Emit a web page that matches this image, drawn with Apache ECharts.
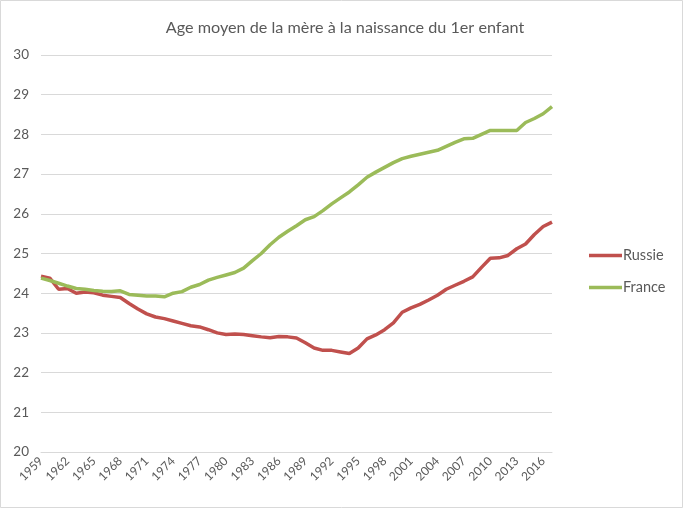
<!DOCTYPE html>
<html>
<head>
<meta charset="utf-8">
<script src="https://cdn.jsdelivr.net/npm/echarts@6/dist/echarts.min.js"></script>
<style>
html,body{margin:0;padding:0;background:#fff;}
#chart{width:684px;height:509px;}
</style>
</head>
<body>
<div id="chart"></div>
<script>
const years = [];
for (let y = 1959; y <= 2017; y++) years.push(String(y));

const russie = [
  24.43, 24.38, 24.10, 24.12, 24.00, 24.03, 24.01, 23.95, 23.92, 23.89,
  23.74, 23.60, 23.48, 23.40, 23.36, 23.30, 23.24, 23.18, 23.15, 23.08,
  23.00, 22.96, 22.97, 22.96, 22.93, 22.90, 22.88, 22.91, 22.90, 22.87,
  22.75, 22.62, 22.56, 22.56, 22.52, 22.48, 22.62, 22.85, 22.95, 23.08,
  23.25, 23.52, 23.63, 23.72, 23.83, 23.95, 24.10, 24.20, 24.30, 24.41,
  24.65, 24.88, 24.89, 24.95, 25.12, 25.24, 25.48, 25.68, 25.79
];

const france = [
  24.38, 24.32, 24.25, 24.18, 24.12, 24.10, 24.07, 24.05, 24.04, 24.06,
  23.97, 23.95, 23.93, 23.93, 23.91, 24.00, 24.04, 24.15, 24.22, 24.33,
  24.40, 24.46, 24.52, 24.63, 24.82, 25.00, 25.22, 25.41, 25.56, 25.70,
  25.85, 25.93, 26.08, 26.25, 26.40, 26.55, 26.73, 26.92, 27.05, 27.17,
  27.29, 27.39, 27.45, 27.50, 27.55, 27.60, 27.70, 27.80, 27.89, 27.90,
  28.00, 28.10, 28.10, 28.10, 28.10, 28.30, 28.40, 28.52, 28.70
];

const titleText = 'Age moyen de la mère à la naissance du 1er enfant';
const seriesNames = ['Russie', 'France'];
const colors = ['#C0504D', '#9BBB59'];

const chart = echarts.init(document.getElementById('chart'), null, {renderer: 'canvas'});
const font = 'Lato, "Open Sans", "Liberation Sans", sans-serif';
chart.setOption({
  animation: false,
  backgroundColor: '#fff',
  title: {
    text: titleText,
    left: 340, top: 15, textAlign: 'center',
    textStyle: {fontFamily: font, fontSize: 16.2, fontWeight: 'normal', color: '#595959'}
  },
  graphic: [{
    type: 'rect', shape: {x: 0.5, y: 0.5, width: 682, height: 507},
    style: {fill: 'none', stroke: '#d9d9d9', lineWidth: 1}, silent: true
  }],
  legend: {
    orient: 'vertical', left: 584, top: 242,
    icon: 'rect', itemWidth: 33, itemHeight: 3.5, itemGap: 15,
    textStyle: {fontFamily: font, fontSize: 14.5, color: '#595959', padding: [0,0,0,-4], lineHeight: 17},
    data: seriesNames
  },
  grid: {left: 41, right: 132, top: 55, bottom: 57, containLabel: false},
  xAxis: {
    type: 'category', data: years, boundaryGap: false,
    axisLine: {show: true, lineStyle: {color: '#d9d9d9', width: 1}},
    axisTick: {show: false},
    axisLabel: {interval: 2, rotate: 45, fontFamily: font, fontSize: 12, color: '#595959', margin: 7},
    splitLine: {show: false}
  },
  yAxis: {
    type: 'value', min: 20, max: 30, interval: 1,
    axisLine: {show: false}, axisTick: {show: false},
    axisLabel: {fontFamily: font, fontSize: 13.5, color: '#595959', margin: 12},
    splitLine: {lineStyle: {color: '#d9d9d9', width: 1}}
  },
  series: [
    {name: seriesNames[0], type: 'line', data: russie, symbol: 'none', smooth: false,
     lineStyle: {color: colors[0], width: 3.5}, itemStyle: {color: colors[0]}},
    {name: seriesNames[1], type: 'line', data: france, symbol: 'none', smooth: false,
     lineStyle: {color: colors[1], width: 3.5}, itemStyle: {color: colors[1]}}
  ]
});
</script>
</body>
</html>
